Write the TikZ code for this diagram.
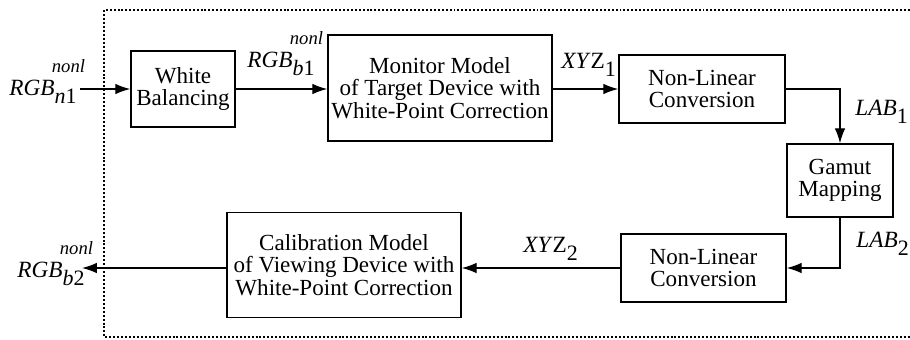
\documentclass[tikz,border=0pt]{standalone}
\usepackage{fontspec}
\setmainfont{Liberation Serif}
\usetikzlibrary{arrows.meta}

\newcommand{\sig}[3]{\textit{#1}\rlap{\raisebox{-0.38em}{\fontsize{10}{10}\selectfont #2}}\kern-0.12em\raisebox{0.95em}{\fontsize{8.5}{9}\selectfont\textit{#3}}}
\newcommand{\idx}[1]{\raisebox{-0.38em}{\fontsize{10}{10}\selectfont #1}}

\begin{document}
\begin{tikzpicture}[x=0.016cm,y=-0.016cm,
  blk/.style={draw,line width=0.7pt,inner sep=0pt,align=center,font=\fontsize{10.5}{10.3}\selectfont},
  lab/.style={anchor=base west,inner sep=0pt,font=\fontsize{10.6}{11}\selectfont},
  >={Latex[length=2.4mm,width=1.7mm]}]
\useasboundingbox (0,0) rectangle (910,339);
% dotted frame, open on the right
\draw[line width=0.6pt,dash pattern=on 0.9pt off 0.9pt] (910,10) -| (104,337) -- (910,337);
% blocks
\node[blk,minimum width=1.664cm,minimum height=1.216cm] (wb) at (183,89) {White\\Balancing};
\node[blk,minimum width=3.584cm,minimum height=1.696cm] (mon) at (440,88) {Monitor Model\\of Target Device with\\White-Point Correction};
\node[blk,minimum width=2.656cm,minimum height=1.088cm] (nl1) at (702,89) {Non-Linear\\Conversion};
\node[blk,minimum width=1.696cm,minimum height=1.168cm] (gam) at (840,180.5) {Gamut\\Mapping};
\node[blk,minimum width=2.64cm,minimum height=1.088cm] (nl2) at (703.5,268) {Non-Linear\\Conversion};
\node[blk,minimum width=3.744cm,minimum height=1.68cm] (cal) at (344,265) {Calibration Model\\of Viewing Device with\\White-Point Correction};
\coordinate (in) at (80,89);
\coordinate (out) at (82,268);
% connectors
\draw[line width=0.6pt,->] (in) -- (wb.west);
\draw[line width=0.6pt,->] (wb.east) -- (wb.east -| mon.west);
\draw[line width=0.6pt,->] (mon.east |- nl1.west) -- (nl1.west);
\draw[line width=0.6pt,->] (nl1.east) -| (gam.north);
\draw[line width=0.6pt,->] (gam.south) |- (nl2.east);
\draw[line width=0.6pt,->] (nl2.west) -- (nl2.west -| cal.east);
\draw[line width=0.6pt,->] (cal.west |- out) -- (out);
% signal labels
\node[lab] (l1) at (9,95) {\sig{RGB}{\textit{n}1}{nonl}};
\node[lab] (l2) at (247,67) {\sig{RGB}{\textit{b}1}{nonl}};
\node[lab] (l3) at (561,68) {\textit{XY}Z\idx{1}};
\node[lab] (l4) at (855,115) {\textit{LAB}\idx{1}};
\node[lab] (l5) at (856,247) {\textit{LAB}\idx{2}};
\node[lab] (l6) at (523,252) {\textit{XY}Z\idx{2}};
\node[lab] (l7) at (17,277) {\sig{RGB}{\textit{b}2}{nonl}};
\end{tikzpicture}
\end{document}
